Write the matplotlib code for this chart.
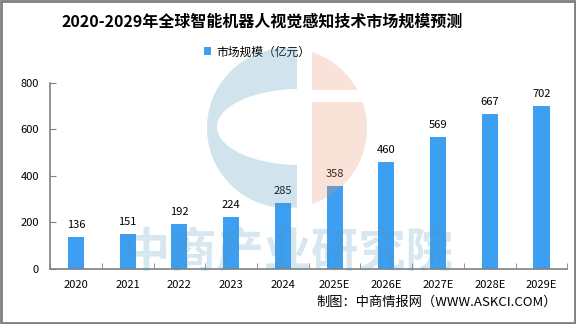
import numpy as np
import matplotlib
matplotlib.use('Agg')
import matplotlib.pyplot as plt
from matplotlib.patches import Polygon, Rectangle

plt.rcParams['font.family'] = ['Noto Sans CJK SC', 'DejaVu Sans']

# dados
years = ['2020', '2021', '2022', '2023', '2024', '2025E', '2026E', '2027E', '2028E', '2029E']
market = [136, 151, 192, 224, 285, 358, 460, 569, 667, 702]
y_ticks = [0, 200, 400, 600, 800]

title = '2020-2029年全球智能机器人视觉感知技术市场规模预测'
legend_label = '市场规模（亿元）'
source = '制图：中商情报网（WWW.ASKCI.COM）'
watermark = '中商产业研究院'

bar_color = '#3d9ff2'
axis_color = '#808080'

fig = plt.figure(figsize=(5.76, 3.24), dpi=100)
ax = fig.add_axes([0.087, 0.17, 0.898, 0.574])

x = np.arange(len(years))
bars = ax.bar(x, market, width=0.31, color=bar_color, label=legend_label, zorder=2)

# rotulos dos valores
for xi, v in zip(x, market):
    ax.annotate(str(v), (xi, v), xytext=(0, 5), textcoords='offset points',
                ha='center', va='bottom', fontsize=8, color='black')

ax.set_xlim(-0.5, len(years) - 0.5)
ax.set_ylim(0, 800)
ax.set_yticks(y_ticks)
ax.set_xticks(x)
ax.set_xticklabels(years)
ax.set_xticks(np.arange(len(years) + 1) - 0.5, minor=True)
ax.tick_params(axis='x', which='major', length=0, pad=8, labelsize=8)
ax.tick_params(axis='x', which='minor', direction='in', length=4, color=axis_color)
ax.tick_params(axis='y', direction='in', length=4, color=axis_color, pad=8, labelsize=8)

for s in ['top', 'right']:
    ax.spines[s].set_visible(False)
for s in ['left', 'bottom']:
    ax.spines[s].set_color(axis_color)
    ax.spines[s].set_linewidth(1.2)

fig.text(0.455, 0.932, title, ha='center', va='center', fontsize=11.5, fontweight='bold')
ax.legend(loc='center', bbox_to_anchor=(0.4, 1.167), frameon=False, fontsize=8.5,
          handlelength=0.6, handleheight=0.6, handletextpad=0.4, borderaxespad=0)
fig.text(0.967, 0.068, source, ha='right', va='center', fontsize=9.5)

# marca d'agua (logo + texto), em pixels
wm = fig.add_axes([0, 0, 1, 1], zorder=5)
wm.set_xlim(0, 576)
wm.set_ylim(324, 0)
wm.axis('off')
wm.patch.set_alpha(0)

cx, cy, r = 287, 128, 80
xs = 297
ex, ey, ea, eb = 300, 127, 83, 38
dy = np.sqrt(r**2 - (xs - cx)**2)
t0 = np.arctan2(-dy, xs - cx)
t1 = np.arctan2(dy, xs - cx)
tt = np.linspace(t0, t1 - 2 * np.pi, 120)
outer = np.column_stack([cx + r * np.cos(tt), cy + r * np.sin(tt)])
edy = eb * np.sqrt(1 - ((xs - ex) / ea)**2)
s0 = np.arctan2(edy / eb, (xs - ex) / ea)
s1 = np.arctan2(-edy / eb, (xs - ex) / ea)
ss = np.linspace(s0, s1 + 2 * np.pi, 120)
inner = np.column_stack([ex + ea * np.cos(ss), ey + eb * np.sin(ss)])
wm.add_patch(Polygon(np.vstack([outer, inner]), closed=True,
                     facecolor=(75/255, 147/255, 187/255), alpha=0.25, lw=0))

xp = 312
gap_top, gap_bot = 90, 102
def right_piece(y_a, y_b):
    ys = np.linspace(y_a, y_b, 80)
    xr = cx + np.sqrt(np.clip(r**2 - (ys - cy)**2, 0, None))
    pts = np.column_stack([xr, ys])
    pts = pts[pts[:, 0] >= xp]
    return np.vstack([[xp, pts[0, 1]], pts, [xp, pts[-1, 1]]])
ytop = cy - np.sqrt(r**2 - (xp - cx)**2)
ybot = cy + np.sqrt(r**2 - (xp - cx)**2)
for ya, yb in [(ytop, gap_top), (gap_bot, ybot)]:
    wm.add_patch(Polygon(right_piece(ya, yb), closed=True,
                         facecolor=(235/255, 147/255, 107/255), alpha=0.25, lw=0))

wm.text(288, 252, watermark, ha='center', va='center', fontsize=34, fontweight='bold',
        color=(75/255, 147/255, 187/255), alpha=0.22)

fig.patches.append(Rectangle((0.002, 0.003), 0.996, 0.994, transform=fig.transFigure,
                             fill=False, edgecolor='#808080', lw=2))

fig.savefig('out.png', dpi=100)
